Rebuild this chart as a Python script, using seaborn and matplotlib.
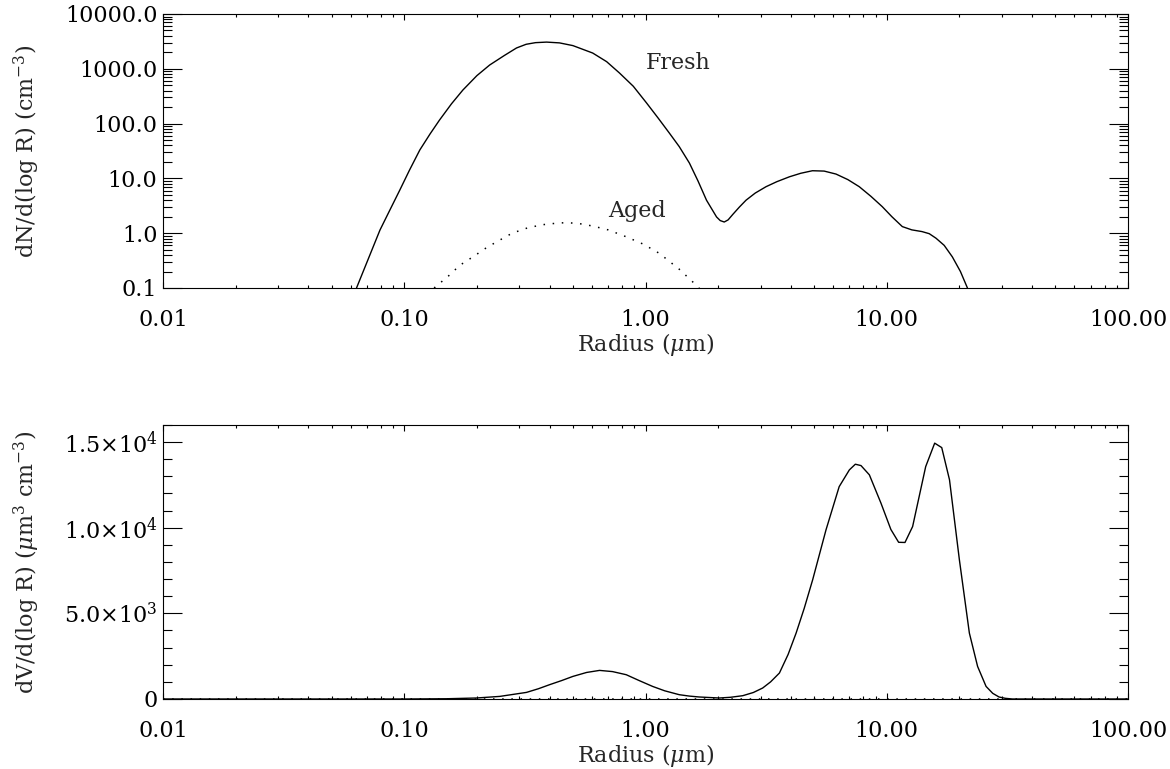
import matplotlib
matplotlib.use('Agg')
import matplotlib.pyplot as plt
import matplotlib.ticker as mticker
import seaborn as sns

# ---------------------------------------------------------------------------
# Values
# ---------------------------------------------------------------------------
# top panel: number size distributions
fresh_r = [0.0634, 0.0793, 0.087, 0.0958, 0.105, 0.116, 0.128, 0.140, 0.157,
           0.175, 0.20, 0.226, 0.26, 0.292, 0.32, 0.350, 0.389, 0.440, 0.50,
           0.604, 0.69, 0.780, 0.89, 1.01, 1.13, 1.256, 1.38, 1.52, 1.65,
           1.79, 1.97, 2.04, 2.12, 2.20, 2.30, 2.45, 2.61, 2.85, 3.16, 3.5,
           3.95, 4.4, 4.92, 5.5, 6.16, 6.9, 7.69, 8.6, 9.58, 10.5, 11.6,
           12.7, 14.0, 15.0, 16.0, 17.3, 18.7, 20.2, 21.6]
fresh_n = [0.1, 1.14, 2.6, 6.1, 14, 33, 65, 116, 230,
           410, 750, 1173, 1750, 2400, 2800, 3000, 3070, 2970, 2650,
           1940, 1350, 838, 480, 238, 125, 67, 38, 19.1, 9.0,
           4.0, 1.98, 1.7, 1.6, 1.75, 2.2, 3.0, 4.0, 5.4, 7.06, 8.7,
           10.7, 12.4, 13.8, 13.6, 12.0, 9.5, 7.06, 4.7, 3.05, 2.0, 1.32,
           1.15, 1.07, 0.98, 0.81, 0.6, 0.37, 0.2, 0.1]

aged_r = [0.133, 0.154, 0.17, 0.193, 0.22, 0.249, 0.28, 0.321, 0.37, 0.427,
          0.47, 0.53, 0.605, 0.70, 0.832, 0.98, 1.14, 1.38, 1.67]
aged_n = [0.1, 0.172, 0.26, 0.372, 0.55, 0.75, 1.0, 1.23, 1.42, 1.52,
          1.56, 1.50, 1.35, 1.15, 0.86, 0.63, 0.43, 0.22, 0.1]

# bottom panel: volume size distributions
vol_r = [0.01, 0.1, 0.15, 0.199, 0.249, 0.28, 0.321, 0.36, 0.400, 0.45,
         0.500, 0.57, 0.645, 0.73, 0.832, 0.94, 1.07, 1.2, 1.38, 1.52,
         1.67, 2.02, 2.25, 2.53, 2.8, 3.06, 3.3, 3.59, 3.9, 4.21, 4.55,
         4.93, 5.60, 6.35, 7.00, 7.41, 7.82, 8.47, 9.46, 10.4, 11.2, 11.9,
         12.8, 14.5, 15.8, 16.9, 18.2, 20.0, 22.0, 23.8, 25.8, 27.5, 29.2,
         31.0, 33.2, 100.0]
vol_v = [0, 0, 15, 58, 152, 260, 385, 600, 834, 1080,
         1319, 1550, 1670, 1600, 1418, 1080, 735, 480, 251, 170,
         117, 58, 100, 193, 380, 642, 1000, 1517, 2600, 3850, 5300,
         6960, 9877, 12400, 13380, 13710, 13630, 13090, 11440, 9900, 9150, 9140,
         10070, 13570, 14940, 14680, 12800, 8130, 3850, 1900, 735, 330, 117,
         40, 0, 0]

aged_vol_r = [0.01, 100.0]
aged_vol_v = [0, 0]

x_ticks = [0.01, 0.1, 1, 10, 100]
x_labels = ['0.01', '0.10', '1.00', '10.00', '100.00']
top_y_ticks = [0.1, 1, 10, 100, 1000, 10000]
top_y_labels = ['0.1', '1.0', '10.0', '100.0', '1000.0', '10000.0']
bot_y_ticks = [0, 5000, 10000, 15000]
bot_y_labels = ['0', r'5.0$\times$10$^{3}$', r'1.0$\times$10$^{4}$',
                r'1.5$\times$10$^{4}$']

# ---------------------------------------------------------------------------
sns.set_style('ticks')
plt.rcParams['font.family'] = ['DejaVu Serif']
plt.rcParams['mathtext.fontset'] = 'dejavuserif'
plt.rcParams['axes.linewidth'] = 0.8

FS = 16
fig = plt.figure(figsize=(11.70, 7.69), dpi=100)
ax1 = fig.add_axes([0.13932, 0.62549, 0.82479, 0.35631])
ax2 = fig.add_axes([0.13932, 0.09103, 0.82479, 0.35631])


def style_axis(ax):
    ax.set_xscale('log')
    ax.set_xlim(0.01, 100)
    ax.set_xticks(x_ticks)
    ax.set_xticklabels(x_labels)
    ax.xaxis.set_minor_locator(mticker.LogLocator(base=10, subs=range(2, 10), numticks=20))
    ax.xaxis.set_minor_formatter(mticker.NullFormatter())
    ax.tick_params(which='both', direction='in', top=True, right=True,
                   colors='black', labelsize=FS, width=0.8)
    ax.tick_params(axis='x', which='major', length=4, pad=15)
    ax.tick_params(axis='x', which='minor', length=2)
    ax.tick_params(axis='y', which='major', length=13.7, pad=4)
    ax.tick_params(axis='y', which='minor', length=6.8)
    ax.set_xlabel(r'Radius ($\mu$m)', fontsize=FS, labelpad=0)
    for s in ax.spines.values():
        s.set_visible(True)
        s.set_color('black')


# --- top: dN/dlogR ---------------------------------------------------------
sns.lineplot(x=fresh_r, y=fresh_n, ax=ax1, color='black', lw=1,
             estimator=None, sort=False)
sns.lineplot(x=aged_r, y=aged_n, ax=ax1, color='black', lw=1.1,
             estimator=None, sort=False, linestyle=(0, (1, 5)))
style_axis(ax1)
ax1.set_yscale('log')
ax1.set_ylim(0.1, 10000)
ax1.set_yticks(top_y_ticks)
ax1.set_yticklabels(top_y_labels)
ax1.yaxis.set_minor_locator(mticker.LogLocator(base=10, subs=range(2, 10), numticks=20))
ax1.yaxis.set_minor_formatter(mticker.NullFormatter())
ax1.set_ylabel(r'dN/d(log R) (cm$^{-3}$)', fontsize=FS)
ax1.yaxis.set_label_coords(-0.1254, 0.5)
ax1.text(1.0, 1000, 'Fresh', fontsize=FS, va='baseline', ha='left')
ax1.text(0.70, 2.0, 'Aged', fontsize=FS, va='baseline', ha='left')

# --- bottom: dV/dlogR ------------------------------------------------------
sns.lineplot(x=vol_r, y=vol_v, ax=ax2, color='black', lw=1,
             estimator=None, sort=False)
sns.lineplot(x=aged_vol_r, y=aged_vol_v, ax=ax2, color='black', lw=1.1,
             estimator=None, sort=False, linestyle=(0, (1, 5)))
style_axis(ax2)
ax2.set_ylim(0, 16000)
ax2.set_yticks(bot_y_ticks)
ax2.set_yticklabels(bot_y_labels)
ax2.yaxis.set_minor_locator(mticker.MultipleLocator(1000))
ax2.set_ylabel(r'dV/d(log R) ($\mu$m$^{3}$ cm$^{-3}$)', fontsize=FS)
ax2.yaxis.set_label_coords(-0.1254, 0.5)

fig.savefig('out.png', dpi=100)
